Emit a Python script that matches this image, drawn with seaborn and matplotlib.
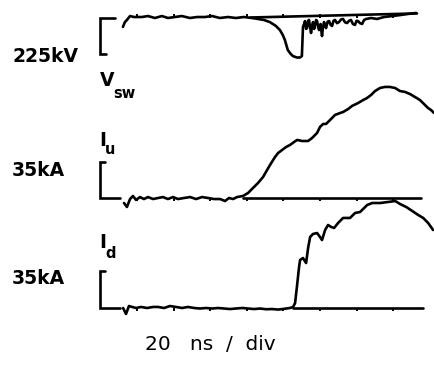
import numpy as np
import pandas as pd
import matplotlib
matplotlib.use("Agg")
import matplotlib.pyplot as plt
import seaborn as sns

# ---- oscilloscope record: time in ns, 20 ns per division ----
# switch voltage V_sw (kV), 225 kV per division
vsw_t = [12.3, 13.4, 14.5, 16.2, 18.4, 22.7, 26.0, 29.8, 33.6, 36.9, 40.7, 44.5,
         48.9, 52.8, 57.1, 61.0, 65.3, 69.7, 74.0, 78.4, 82.8, 86.1, 89.3, 92.6,
         95.9, 98.1, 99.7, 100.8, 102.4, 104.0, 105.2, 107.4, 109.0, 110.1,
         110.7, 111.3, 111.8, 112.4, 112.9, 113.5, 114.0, 114.6, 115.1, 115.7,
         116.2, 116.8, 117.3, 117.9, 118.4, 119.0, 119.5, 120.3, 121.1, 121.6,
         122.2, 122.8, 123.3, 124.2, 125.0, 125.8, 126.6, 127.4, 128.2, 129.3,
         130.4, 131.5, 132.6, 133.7, 134.8, 135.9, 136.9, 138.0, 139.1, 140.0,
         140.8, 141.9, 143.0, 144.1, 145.2, 147.9, 151.2, 155.0, 159.4, 163.8,
         168.2, 172.5]
vsw_kv = [-58, -28, -15, 9, 3, 3, 9, -3, 9, -3, 3, 9,
          -3, 3, 3, 9, -3, 3, -3, 3, -3, -9, -15, -28,
          -52, -77, -108, -138, -200, -224, -237, -246, -246, -237,
          -58, -40, -22, -70, -65, -20, -15, -60, -95, -50,
          -28, -70, -46, -15, -22, -60, -77, -40, -114, -60,
          -28, -50, -65, -25, -22, -45, -52, -20, -15, -35,
          -28, -12, -9, -30, -34, -20, -15, -40, -46, -20,
          -22, -35, -40, -15, -9, -3, -9, 3, 9, 15,
          22, 28]
vsw_ref_t = [82.0, 173.0]
vsw_ref_kv = [0, 25]

# upstream current I_u (kA), 35 kA per division
iu_t = [12.9, 14.5, 16.2, 17.8, 19.5, 21.6, 23.8, 26.0, 28.8, 31.5, 34.2, 36.9,
        39.7, 42.4, 45.7, 49.0, 52.3, 55.5, 58.8, 62.1, 65.4, 68.1, 70.3, 72.5,
        74.7, 77.9, 80.7, 83.4, 86.1, 88.9, 91.1, 92.7, 95.4, 97.1, 99.3, 101.5,
        103.6, 105.8, 107.5, 110.2, 113.5, 115.7, 118.4, 120.0, 121.7, 123.3,
        124.4, 126.6, 128.2, 131.0, 132.6, 135.4, 137.5, 140.8, 143.6, 145.7,
        147.9, 150.1, 152.8, 155.5, 158.2, 161.0, 163.7, 166.5, 169.2, 171.9,
        174.6, 177.4, 179.0, 180.7, 182.3]
iu_ka = [-4.6, -8.4, -0.8, 2.1, -1.7, 1.1, -0.8, 1.1, -0.8, 0.2, 1.1, -0.8,
         1.1, -0.8, 0.2, 1.1, -0.8, 1.1, 0.2, -0.8, -0.8, -2.7, 0.2, -0.8,
         1.1, 2.1, 5.0, 9.8, 14.5, 20.3, 27.0, 31.8, 39.4, 43.2, 46.1, 49.0,
         50.9, 53.7, 55.7, 54.7, 54.7, 57.6, 62.4, 68.1, 71.0, 71.0,
         72.9, 76.7, 79.6, 81.5, 82.4, 85.3, 88.2, 91.0, 93.9, 95.8,
         98.7, 102.5, 105.4, 106.4, 106.4, 105.4, 102.5, 101.6, 99.6, 96.8,
         93.9, 89.1, 86.3, 84.3, 81.5]
iu_ref_t = [77.9, 175.0]
iu_ref_ka = [0, 0]

# downstream current I_d (kA), 35 kA per division
id_t = [12.4, 14.0, 15.6, 17.3, 19.5, 22.2, 25.5, 28.8, 31.5, 34.8, 38.0, 41.3,
        44.6, 47.9, 51.2, 54.4, 57.7, 61.0, 64.3, 67.6, 70.8, 74.1, 77.4, 80.7,
        84.0, 87.2, 90.5, 93.8, 97.1, 100.3, 103.6, 105.3, 106.4, 107.5, 108.5,
        109.1, 110.7, 112.4, 113.5, 114.6, 116.2, 118.4, 120.0, 121.1, 122.8,
        124.4, 126.1, 127.7, 129.9, 132.6, 136.4, 139.2, 141.9, 144.1, 145.8,
        148.5, 152.9, 157.2, 161.1, 163.8, 167.1, 170.4, 173.6, 176.4, 179.1,
        181.8]
id_ka = [0, -5.7, 1.9, 1.0, 0, 1.0, 0, 1.0, 1.0, 0, 1.9, 1.0,
         0, 1.0, 0, -0.5, 0, -0.5, 0, -0.5, -1.0, -0.5, 0, -0.5,
         -1.0, -0.5, -1.2, -1.0, -1.5, -0.8, 0, 1.0, 4.8, 22.0, 38.3,
         45.9, 47.8, 43.0, 57.4, 67.9, 70.8, 71.7, 67.9, 65.0, 74.6,
         79.4, 77.5, 76.5, 81.3, 86.1, 86.1, 90.9, 91.8, 95.6, 98.5,
         100.4, 100.4, 101.4, 102.3, 99.4, 96.6, 92.8, 89.0, 86.1, 81.3,
         74.6]
id_ref_t = [105.3, 176.5]
id_ref_ka = [0, 0]

div_ticks_ns = [20, 40, 60, 80, 100, 120, 140, 160]

# ---- screen layout (vertical units = scope divisions) ----
W, H = 434, 367
NS_PER_PX = 20 / 36.6
T0_PX = 100.4           # x pixel of t = 0
Y0_PX = 308.0           # y pixel of the I_d zero line
DIV_PX = 36.6

traces = [
    # name, t, values, ref t, ref values, per-div scale, vertical offset, tick direction
    ("Vsw", vsw_t, vsw_kv, vsw_ref_t, vsw_ref_kv, 225.0, 7.937, +1),
    ("Iu", iu_t, iu_ka, iu_ref_t, iu_ref_ka, 35.0, 3.0, -1),
    ("Id", id_t, id_ka, id_ref_t, id_ref_ka, 35.0, 0.0, -1),
]

sns.set_style("white")
plt.rcParams["font.family"] = ["DejaVu Sans"]

fig = plt.figure(figsize=(W / 100, H / 100), dpi=100)
ax = fig.add_axes([0, 0, 1, 1])
ax.set_xlim(-T0_PX * NS_PER_PX, (W - T0_PX) * NS_PER_PX)
ax.set_ylim(-(H - Y0_PX) / DIV_PX, Y0_PX / DIV_PX)
ax.axis("off")

LW = 1.9
for name, t, v, rt, rv, scale, off, tdir in traces:
    df = pd.DataFrame({"t": t, "y": off + np.asarray(v) / scale})
    sns.lineplot(data=df, x="t", y="y", ax=ax, color="black", lw=LW,
                 estimator=None, sort=False, solid_joinstyle="round")
    ref = pd.DataFrame({"t": rt, "y": off + np.asarray(rv) / scale})
    sns.lineplot(data=ref, x="t", y="y", ax=ax, color="black", lw=LW,
                 estimator=None, sort=False)
    # graticule ticks along the zero line
    ax.vlines(div_ticks_ns, off, off + tdir * 0.09, color="black", lw=1.4)
    # one-division scale bracket at t = 0
    if tdir > 0:
        bx = [8.0, 0.0, 0.0, 3.0]
        by = [off, off, off - 1.0, off - 1.0]
    else:
        bx = [2.5, 0.0, 0.0, 10.5]
        by = [off + 1.0, off + 1.0, off, off]
    ax.plot(bx, by, color="black", lw=LW, solid_joinstyle="miter")

def px(x, y):
    return x / W, 1 - y / H

BOLD = dict(color="black", fontweight="bold")
fig.text(*px(12, 57), "225kV", fontsize=13.5, va="center", ha="left", **BOLD)
fig.text(*px(100, 80), "V", fontsize=13.5, va="center", ha="left", **BOLD)
fig.text(*px(113, 94), "sw", fontsize=10.5, va="center", ha="left", **BOLD)

fig.text(*px(99, 140), "I", fontsize=13.5, va="center", ha="left", **BOLD)
fig.text(*px(105, 149), "u", fontsize=10.5, va="center", ha="left", **BOLD)
fig.text(*px(12, 171), "35kA", fontsize=13.5, va="center", ha="left", **BOLD)

fig.text(*px(99, 243), "I", fontsize=13.5, va="center", ha="left", **BOLD)
fig.text(*px(105, 254), "d", fontsize=10.5, va="center", ha="left", **BOLD)
fig.text(*px(12, 278), "35kA", fontsize=13.5, va="center", ha="left", **BOLD)

fig.text(*px(210, 344), "20   ns  /  div", fontsize=14.5, va="center", ha="center",
         color="black", fontweight="medium")

fig.savefig("out.png", dpi=100, facecolor="white")
